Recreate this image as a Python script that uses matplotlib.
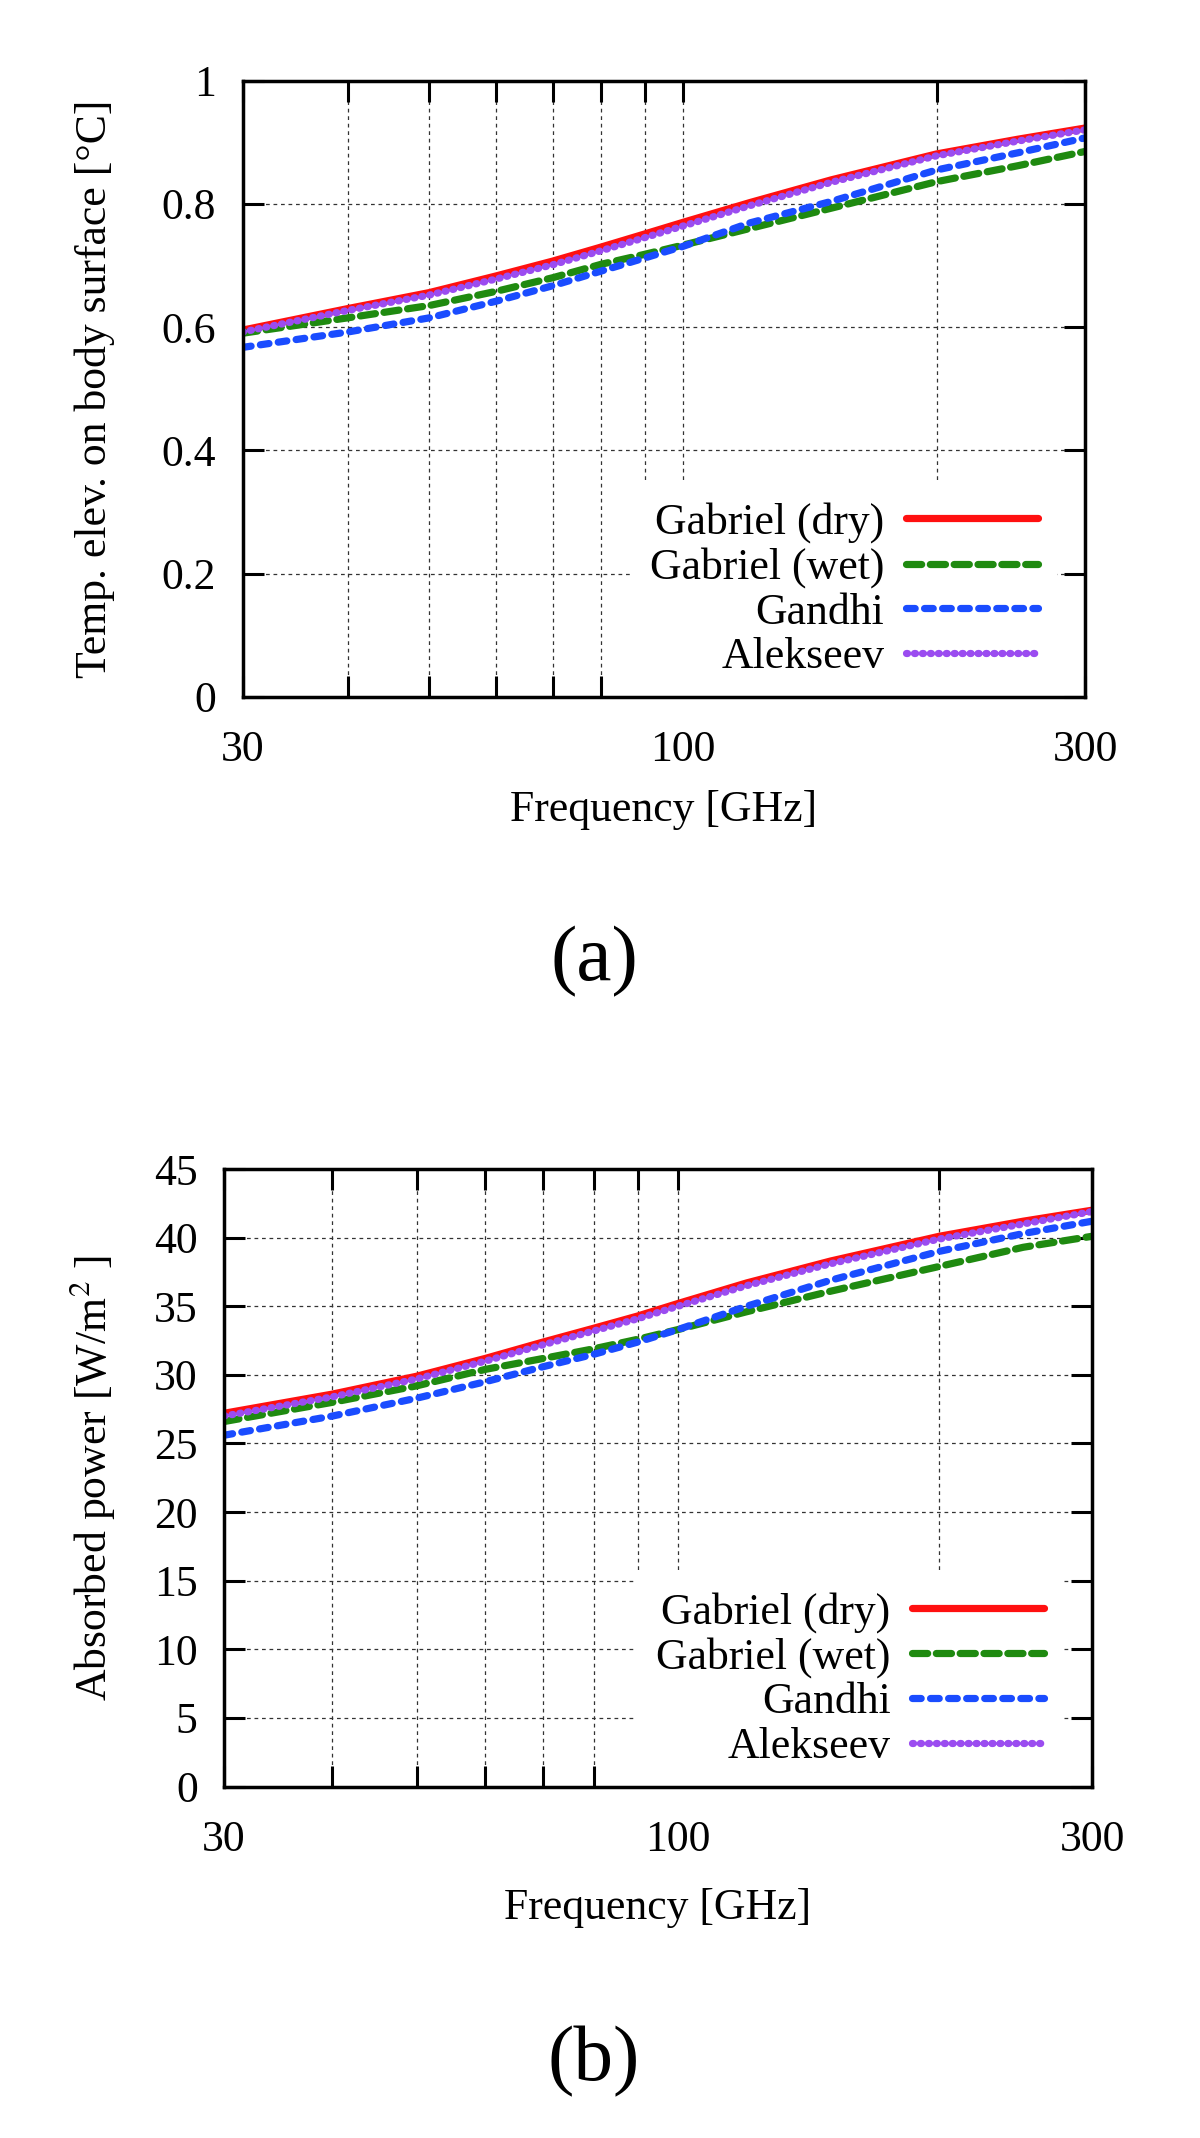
import matplotlib
matplotlib.use('Agg')
import matplotlib.pyplot as plt
from matplotlib.ticker import FixedLocator, FixedFormatter, NullFormatter

plt.rcParams['font.family'] = 'Liberation Serif'
plt.rcParams['mathtext.fontset'] = 'stix'

# frequency points [GHz]
freq = [30, 40, 50, 60, 70, 80, 90, 100, 120, 150, 200, 250, 300]

# (a) temperature elevation on body surface [C]
temp_dry = [0.595, 0.630, 0.656, 0.683, 0.707, 0.730, 0.751, 0.770, 0.802, 0.839, 0.881, 0.905, 0.923]
temp_wet = [0.590, 0.615, 0.635, 0.658, 0.680, 0.702, 0.718, 0.733, 0.760, 0.793, 0.836, 0.862, 0.885]
temp_gandhi = [0.567, 0.592, 0.615, 0.642, 0.667, 0.691, 0.712, 0.731, 0.769, 0.804, 0.855, 0.883, 0.907]
temp_alekseev = [0.592, 0.627, 0.652, 0.678, 0.701, 0.724, 0.745, 0.764, 0.797, 0.835, 0.878, 0.902, 0.920]

# (b) absorbed power [W/m2]
pow_dry = [27.2, 28.6, 29.9, 31.2, 32.4, 33.4, 34.3, 35.2, 36.7, 38.3, 40.1, 41.2, 42.0]
pow_wet = [26.6, 28.0, 29.2, 30.4, 31.2, 31.9, 32.6, 33.3, 34.6, 36.1, 37.9, 39.3, 40.1]
pow_gandhi = [25.6, 27.0, 28.3, 29.5, 30.6, 31.5, 32.4, 33.3, 35.0, 36.9, 39.0, 40.3, 41.2]
pow_alekseev = [27.0, 28.4, 29.7, 31.0, 32.2, 33.2, 34.1, 35.0, 36.5, 38.1, 39.9, 41.0, 41.9]

labels = ['Gabriel (dry)', 'Gabriel (wet)', 'Gandhi', 'Alekseev']
colors = ['#ff1010', '#1f8a10', '#1a4cff', '#9b4cf0']
styles = ['-', (0, (2.1, 1.2)), (0, (1.2, 1.3)), (0, (0.15, 0.95))]

x_major = [30, 100, 300]
x_minor = [40, 50, 60, 70, 80, 90, 200]

fs = 31.5
grid_kw = dict(ls=(0, (3, 3)), lw=0.9, color='#333333', zorder=0.5)

fig = plt.figure(figsize=(12, 21.38), dpi=100)


def draw_panel(ax, series, yticks, ylabel, xlab_y, ylab_x):
    for vals, lab, c, ls in zip(series, labels, colors, styles):
        ax.plot(freq, vals, color=c, ls=ls, lw=5.2, label=lab, zorder=2,
                dash_capstyle='round', solid_capstyle='round')
    ax.set_xscale('log')
    ax.set_xlim(30, 300)
    ax.set_ylim(yticks[0], yticks[-1])
    ax.xaxis.set_major_locator(FixedLocator(x_major))
    ax.xaxis.set_major_formatter(FixedFormatter([str(v) for v in x_major]))
    ax.xaxis.set_minor_locator(FixedLocator(x_minor))
    ax.xaxis.set_minor_formatter(NullFormatter())
    ax.set_yticks(yticks)
    ax.set_yticklabels(['%g' % v for v in yticks])
    ax.tick_params(which='both', direction='in', top=True, right=True,
                   length=15, width=2.2, labelsize=fs)
    ax.tick_params(axis='x', which='both', pad=24)
    ax.tick_params(axis='y', pad=19)
    for s in ax.spines.values():
        s.set_linewidth(2.5)
    # grid drawn under the legend, ticks stay above it
    for v in x_minor + [100]:
        ax.axvline(v, **grid_kw)
    for v in yticks[1:-1]:
        ax.axhline(v, **grid_kw)
    ax.set_xlabel('Frequency [GHz]', fontsize=fs)
    ax.xaxis.set_label_coords(0.5, xlab_y)
    ax.set_ylabel(ylabel, fontsize=fs, va='center')
    ax.yaxis.set_label_coords(ylab_x, 0.5)
    leg = ax.legend(loc='lower right', bbox_to_anchor=(0.967, 0.0), markerfirst=False,
                    frameon=True, facecolor='white', edgecolor='none', framealpha=1,
                    fancybox=False, borderpad=0.45, handlelength=3.0, handletextpad=0.5,
                    labelspacing=0.1, borderaxespad=0, fontsize=fs)
    leg.set_zorder(2.2)


ax1 = fig.add_axes([0.2021, 0.6741, 0.7021, 0.2882])
draw_panel(ax1, [temp_dry, temp_wet, temp_gandhi, temp_alekseev],
           [0, 0.2, 0.4, 0.6, 0.8, 1], 'Temp. elev. on body surface [°C]', -0.151, -0.175)

ax2 = fig.add_axes([0.1867, 0.1644, 0.7233, 0.2888])
draw_panel(ax2, [pow_dry, pow_wet, pow_gandhi, pow_alekseev],
           [0, 5, 10, 15, 20, 25, 30, 35, 40, 45], r'Absorbed power [W/m$^{2}$ ]', -0.164, -0.152)

fig.text(0.495, 0.5501, '(a)', ha='center', va='center', fontsize=57)
fig.text(0.495, 0.036, '(b)', ha='center', va='center', fontsize=57)

fig.savefig('out.png', dpi=100)
